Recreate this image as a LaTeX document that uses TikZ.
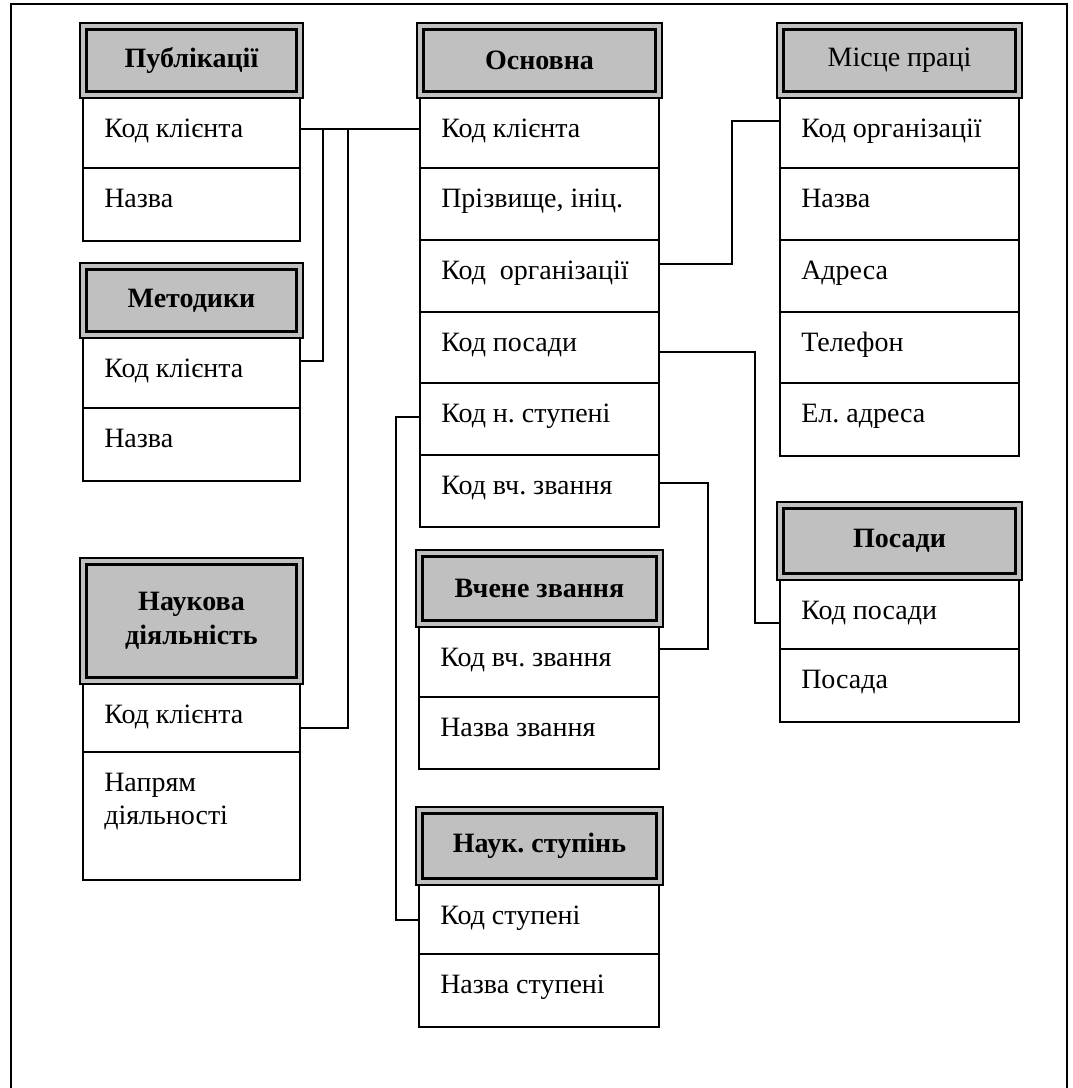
\documentclass[tikz,border=0pt]{standalone}
\usepackage{fontspec}
\setmainfont{Liberation Serif}
\usetikzlibrary{calc}
\definecolor{hdrgray}{RGB}{192,192,192}
\frenchspacing
\tikzset{
  rowbox/.style={draw=black, line width=1.4pt, fill=white, rectangle, inner sep=0pt, outer sep=0pt},
  headbox/.style={draw=black, line width=1.1pt, fill=hdrgray, rectangle, inner sep=0pt, outer sep=0pt,
    font=\fontsize{21pt}{25.5pt}\selectfont\bfseries, align=center},
  headinner/.style={draw=black, line width=2.5pt},
  rowtext/.style={anchor=base west, inner sep=0pt, font=\fontsize{21pt}{24.75pt}\selectfont},
  link/.style={draw=black, line width=1.2pt},
  frameline/.style={draw=black, line width=1.5pt},
}
\newcommand\tblrow[6]{%
  \node[rowbox, minimum width={(#4-#2)*0.75pt}, minimum height={(#5-#3)*0.75pt}] (#1) at ({(#2+#4)/2},{(#3+#5)/2}) {};
  \node[rowtext] (#1t) at ([shift={(21,39.5)}]#1.north west) {#6};
}
\newcommand\tblhead[6]{%
  \node[headbox, minimum width={(#4-#2)*0.75pt}, minimum height={(#5-#3)*0.75pt}] (#1) at ({(#2+#4)/2},{(#3+#5)/2}) {#6};
  \draw[headinner] ([shift={(6.2,6.2)}]#1.north west) rectangle ([shift={(-6.2,-6.2)}]#1.south east);
}
\begin{document}
\frenchspacing
\begin{tikzpicture}[x=0.75pt, y=-0.75pt]
\useasboundingbox (0,0) rectangle (1072,1088);
\fill[white] (0,0) rectangle (1072,1088);
% frame
\draw[frameline] (11,1088) -- (11,4) -- (1067,4) -- (1067,1088);

% Публікації
\tblrow{pA}{83}{98}{300}{168}{Код клієнта}
\tblrow{pB}{83}{168}{300}{241}{Назва}
\tblhead{pH}{80}{23}{303}{98}{Публікації}

% Методики
\tblrow{mA}{83}{338}{300}{408}{Код клієнта}
\tblrow{mB}{83}{408}{300}{481}{Назва}
\tblhead{mH}{80}{263}{303}{338}{Методики}

% Наукова діяльність
\tblrow{nA}{83}{684}{300}{752}{Код клієнта}
\tblrow{nB}{83}{752}{300}{880}{\parbox[t]{6cm}{Напрям\\діяльності}}
\tblhead{nH}{80}{558}{303}{684}{Наукова\\діяльність}

% Основна
\tblrow{oA}{420}{98}{659}{168}{Код клієнта}
\tblrow{oB}{420}{168}{659}{240}{Прізвище, ініц.}
\tblrow{oC}{420}{240}{659}{312}{Код\ \ організації}
\tblrow{oD}{420}{312}{659}{383}{Код посади}
\tblrow{oE}{420}{383}{659}{455}{Код н. ступені}
\tblrow{oF}{420}{455}{659}{527}{Код вч. звання}
\tblhead{oH}{417}{23}{662}{98}{Основна}

% Вчене звання
\tblrow{vA}{419}{627}{659}{697}{Код вч. звання}
\tblrow{vB}{419}{697}{659}{769}{Назва звання}
\tblhead{vH}{416}{550}{663}{627}{Вчене звання}

% Наук. ступінь
\tblrow{sA}{419}{885}{659}{954}{Код ступені}
\tblrow{sB}{419}{954}{659}{1027}{Назва ступені}
\tblhead{sH}{416}{807}{663}{885}{Наук. ступінь}

% Місце праці
\tblrow{wA}{780}{98}{1019}{168}{Код організації}
\tblrow{wB}{780}{168}{1019}{240}{Назва}
\tblrow{wC}{780}{240}{1019}{312}{Адреса}
\tblrow{wD}{780}{312}{1019}{383}{Телефон}
\tblrow{wE}{780}{383}{1019}{456}{Ел. адреса}
\tblhead{wH}{777}{23}{1022}{98}{\mdseries Місце праці}

% Посади
\tblrow{qA}{780}{580}{1019}{649}{Код посади}
\tblrow{qB}{780}{649}{1019}{722}{Посада}
\tblhead{qH}{777}{502}{1022}{580}{Посади}

% connectors
\draw[link] ([yshift=3pt]pA.east) -- ([yshift=3pt]oA.west);
\draw[link] ([yshift=9pt]mA.east) -| (323,129);
\draw[link] ([yshift=-7.5pt]nA.east) -| (348,129);
\draw[link] ([yshift=9pt]oC.east) -| (732,121) -- ([yshift=9pt]wA.west);
\draw[link] ([yshift=-3.4pt]oD.east) -| (755,623) -- ([yshift=-6.4pt]qA.west);
\draw[link] ([yshift=1.5pt]oE.west) -| (396,920) -- ([yshift=-0.4pt]sA.west);
\draw[link] ([yshift=6pt]oF.east) -| (708,649) -- ([yshift=9.75pt]vA.east);
\end{tikzpicture}
\end{document}
